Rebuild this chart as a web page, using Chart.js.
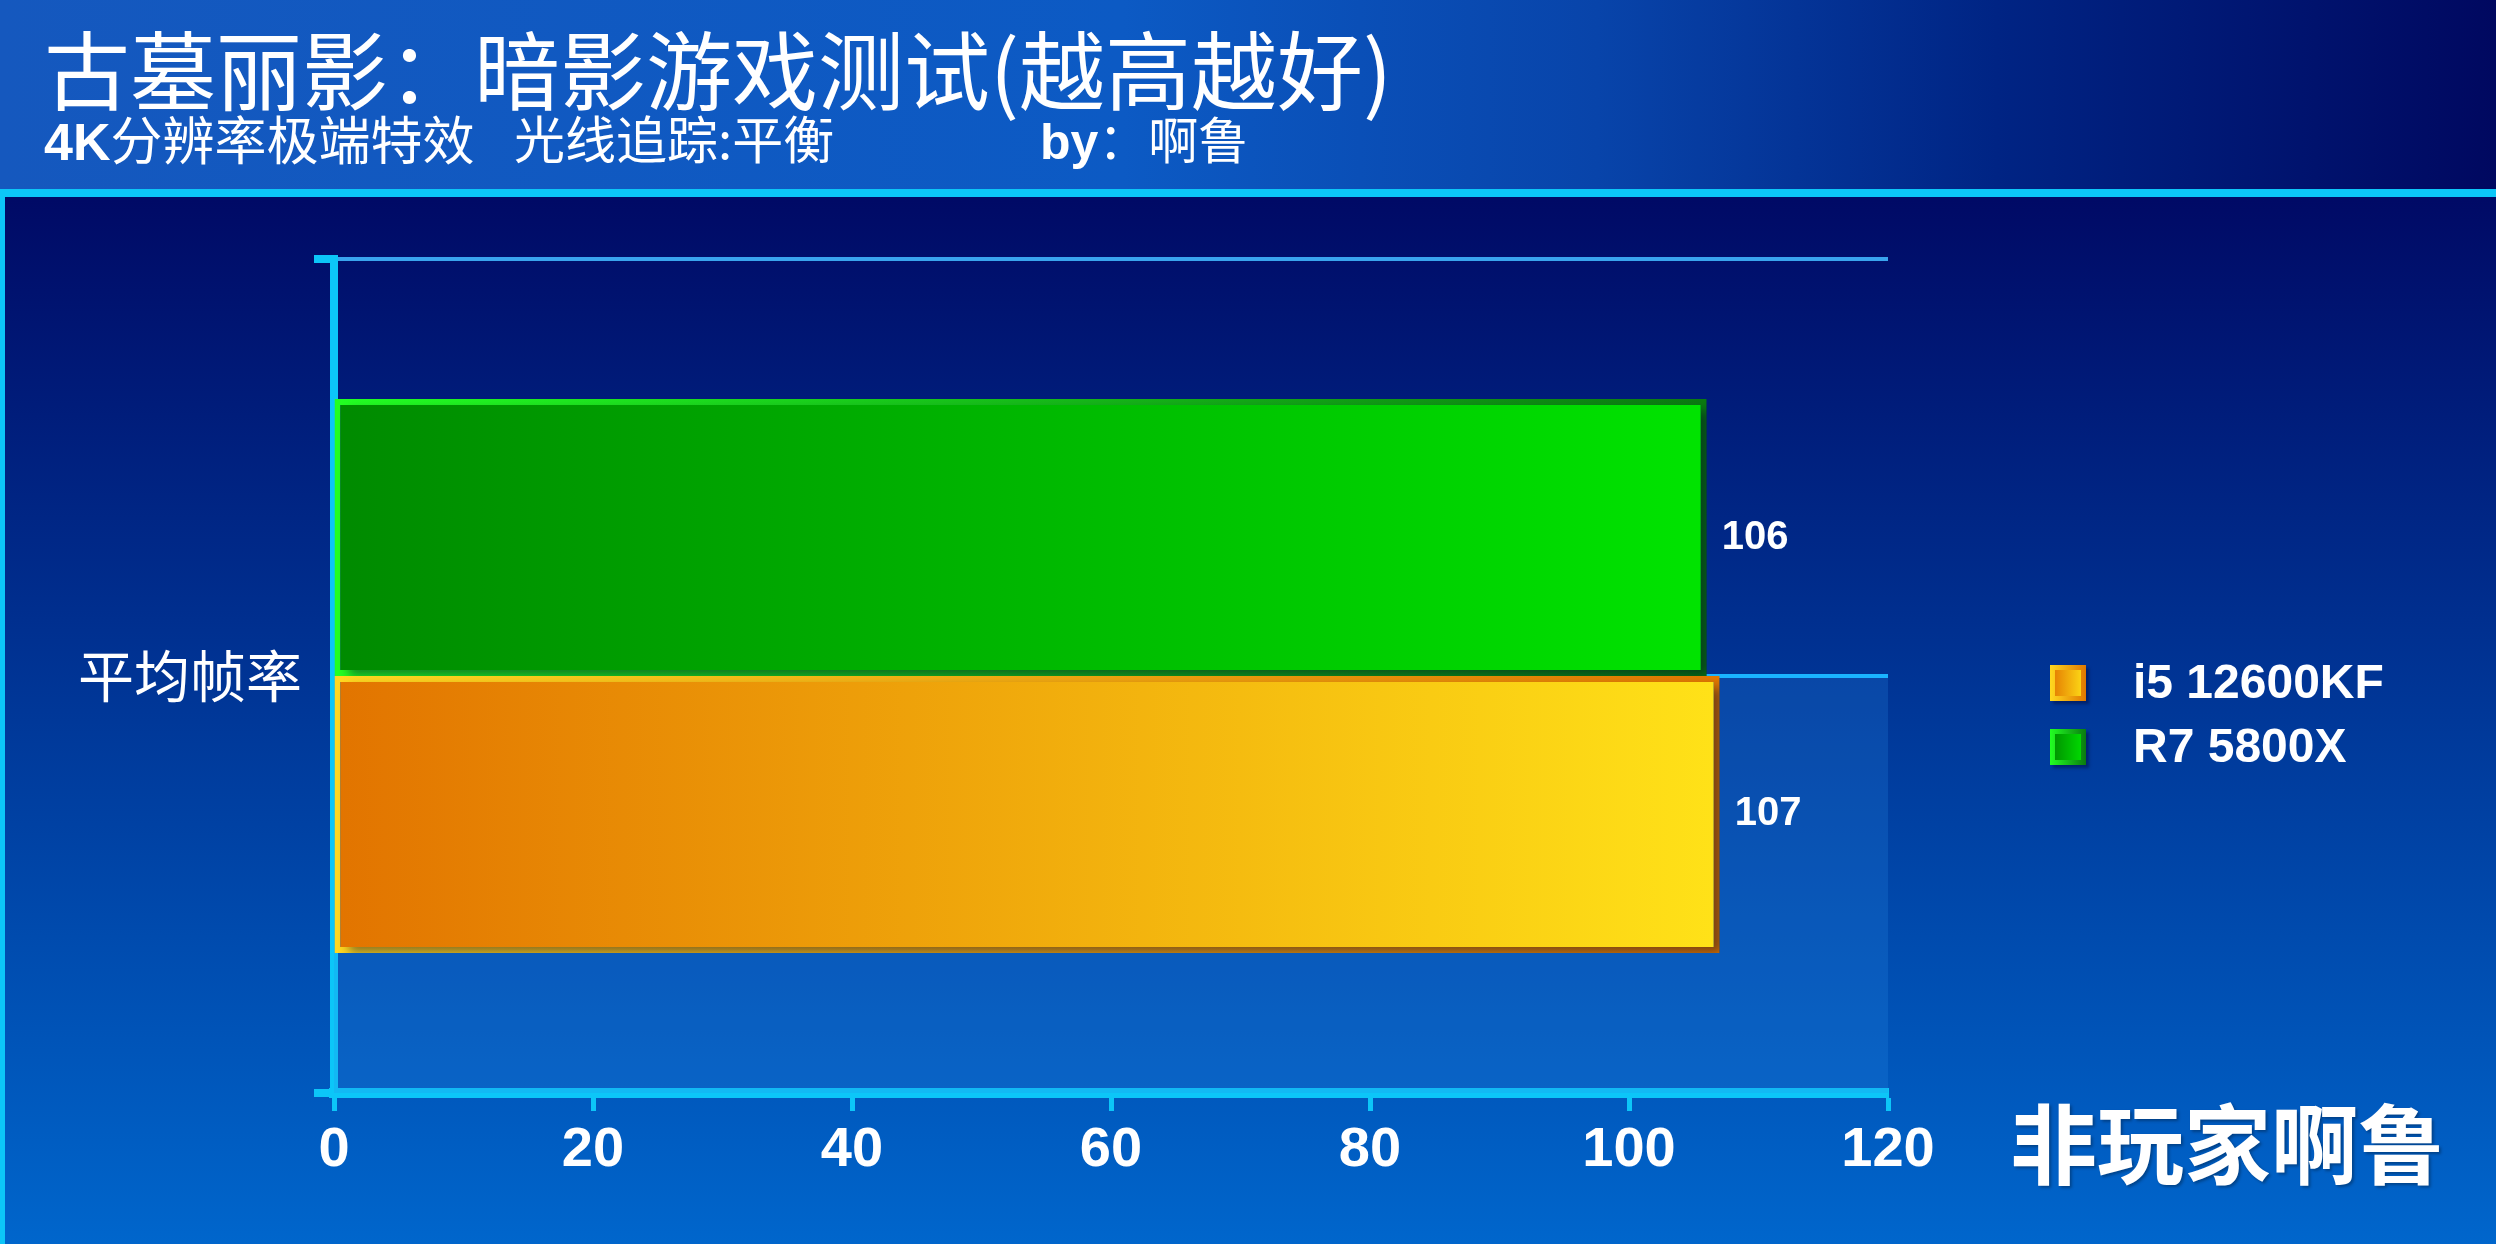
<!DOCTYPE html>
<html>
<head>
<meta charset="utf-8">
<script src="https://cdn.jsdelivr.net/npm/chart.js@4"></script>
<style>
html,body{margin:0;padding:0;}
body{width:2496px;height:1244px;position:relative;overflow:hidden;
background:linear-gradient(to bottom,#000a66 0px,#000a66 200px,#0066cc 1244px);}
#head{position:absolute;left:0;top:0;width:2496px;height:189px;
background:linear-gradient(to right,#1558be 0%,#0c5ac4 45%,#0844aa 64%,#002484 80%,#000860 100%);}
#line{position:absolute;left:0;top:189px;width:2496px;height:8px;background:#0cc6f8;}
#edge{position:absolute;left:0;top:197px;width:5px;height:1047px;background:#0cc6f8;}
.t{position:absolute;color:#fff;white-space:nowrap;line-height:1;font-family:"Noto Sans CJK SC";}
.b{font-family:"Liberation Sans",Arial,sans-serif;font-weight:bold;}
canvas{position:absolute;left:0;top:0;}
</style>
</head>
<body>
<div id="head"></div>
<div id="line"></div>
<div id="edge"></div>
<div class="t" style="left:44px;top:24px;font-size:86px;">古墓丽影：暗影游戏测试(越高越好)</div>
<div class="t" style="left:44px;top:112px;font-size:52px;"><span class="b">4K</span>分辨率极端特效</div>
<div class="t" style="left:514px;top:112px;font-size:51px;">光线追踪:平衡</div>
<div class="t" style="left:1040px;top:112px;font-size:50px;"><span class="b">by</span>：啊鲁</div>
<div class="t" style="left:2010px;top:1097px;font-size:87px;font-weight:700;text-shadow:2px 2px 3px rgba(0,0,0,0.3);">非玩家啊鲁</div>
<canvas id="chart" width="2496" height="1244"></canvas>
<script>
const categories = ["平均帧率"];
const seriesNames = ["R7 5800X", "i5 12600KF"];
const r7Values = [106];
const i5Values = [107];
const xMin = 0;
const xMax = 120;
const xStep = 20;

const CYAN = "#0cc6f8";

function barPaint(c, from, to){
  const chart = c.chart;
  const area = chart.chartArea;
  if(!area || c.raw === undefined) return from;
  const end = chart.scales.x.getPixelForValue(c.raw);
  const g = chart.ctx.createLinearGradient(area.left, 0, end, 0);
  g.addColorStop(0, from);
  g.addColorStop(1, to);
  return g;
}

// lighter band under the lower half of the plot
const bandPlugin = {
  id: "band",
  beforeDatasetsDraw(chart){
    const {ctx, chartArea} = chart;
    const mid = chart.scales.y.getPixelForValue(0);
    ctx.save();
    ctx.fillStyle = "rgba(40,140,230,0.22)";
    ctx.fillRect(chartArea.left, mid, chartArea.right - chartArea.left, chartArea.bottom - mid);
    ctx.strokeStyle = "#1ab4ff";
    ctx.lineWidth = 4;
    ctx.beginPath();
    ctx.moveTo(chartArea.left, mid);
    ctx.lineTo(chartArea.right, mid);
    ctx.stroke();
    ctx.shadowColor = "rgba(0,0,40,0.45)";
    ctx.shadowOffsetX = 8;
    ctx.shadowOffsetY = 6;
    ctx.shadowBlur = 10;
  },
  afterDatasetsDraw(chart){
    chart.ctx.restore();
  }
};

const valuePlugin = {
  id: "values",
  afterDatasetsDraw(chart){
    const ctx = chart.ctx;
    ctx.save();
    ctx.fillStyle = "#fff";
    ctx.font = "bold 40px 'Liberation Sans', Arial, sans-serif";
    ctx.textAlign = "left";
    ctx.textBaseline = "middle";
    chart.data.datasets.forEach((ds, i) => {
      chart.getDatasetMeta(i).data.forEach((el, j) => {
        ctx.fillText(ds.data[j], el.x + 15, el.y);
      });
    });
    ctx.restore();
  }
};

const legendPlugin = {
  id: "sideLegend",
  afterDraw(chart){
    const ctx = chart.ctx;
    const items = chart.data.datasets.slice().reverse();
    ctx.save();
    items.forEach((ds, k) => {
      const x = 2050, y = 665 + k * 64, s = 36;
      ctx.shadowColor = "rgba(0,0,40,0.4)";
      ctx.shadowOffsetX = 3; ctx.shadowOffsetY = 3; ctx.shadowBlur = 3;
      const g = ctx.createLinearGradient(x, 0, x + s, 0);
      g.addColorStop(0, ds.fillFrom); g.addColorStop(1, ds.fillTo);
      ctx.fillStyle = g;
      ctx.fillRect(x, y, s, s);
      ctx.shadowColor = "transparent";
      const gb = ctx.createLinearGradient(x, 0, x + s, 0);
      gb.addColorStop(0, ds.lineFrom); gb.addColorStop(1, ds.lineTo);
      ctx.strokeStyle = gb;
      ctx.lineWidth = 5;
      ctx.strokeRect(x + 2.5, y + 2.5, s - 5, s - 5);
      ctx.fillStyle = "#fff";
      ctx.font = "bold 48px 'Liberation Sans', Arial, sans-serif";
      ctx.textBaseline = "middle";
      ctx.fillText(ds.label, 2133, y + s / 2 + 2);
    });
    ctx.restore();
  }
};

new Chart(document.getElementById("chart"), {
  type: "bar",
  data: {
    labels: categories,
    datasets: [
      {
        label: seriesNames[0], data: r7Values,
        fillFrom: "#008a00", fillTo: "#00e400", lineFrom: "#22ff22", lineTo: "#0a7a10",
        backgroundColor: c => barPaint(c, "#008a00", "#00e400"),
        borderColor: c => barPaint(c, "#22ff22", "#0a7a10")
      },
      {
        label: seriesNames[1], data: i5Values,
        fillFrom: "#e27400", fillTo: "#ffe218", lineFrom: "#ffd820", lineTo: "#e07800",
        backgroundColor: c => barPaint(c, "#e27400", "#ffe218"),
        borderColor: c => barPaint(c, "#ffd820", "#e07800")
      }
    ]
  },
  options: {
    indexAxis: "y",
    responsive: false,
    animation: false,
    devicePixelRatio: 1,
    datasets: {bar: {categoryPercentage: 0.664, barPercentage: 1, borderWidth: 6, borderSkipped: false}},
    layout: {padding: {left: 0, top: 259, right: 608, bottom: 51}},
    plugins: {legend: {display: false}, tooltip: {enabled: false}},
    scales: {
      x: {
        min: xMin, max: xMax, z: 2,
        ticks: {stepSize: xStep, color: "#fff", padding: 6,
          font: {family: "'Liberation Sans', Arial, sans-serif", weight: "bold", size: 56}},
        grid: {drawOnChartArea: false, drawTicks: true, tickLength: 18, tickWidth: 5, tickColor: CYAN},
        border: {display: true, color: CYAN, width: 10},
        afterFit(s){ s.height = 100; }
      },
      y: {
        z: 1,
        ticks: {color: "#fff", padding: 12, font: {family: "'Noto Sans CJK SC'", size: 56}},
        grid: {color: "#3aa4ee", lineWidth: 4, tickLength: 20, tickWidth: 8, tickColor: CYAN},
        border: {display: true, color: CYAN, width: 8},
        afterFit(s){ s.width = 334; }
      }
    }
  },
  plugins: [bandPlugin, valuePlugin, legendPlugin]
});
</script>
</body>
</html>
